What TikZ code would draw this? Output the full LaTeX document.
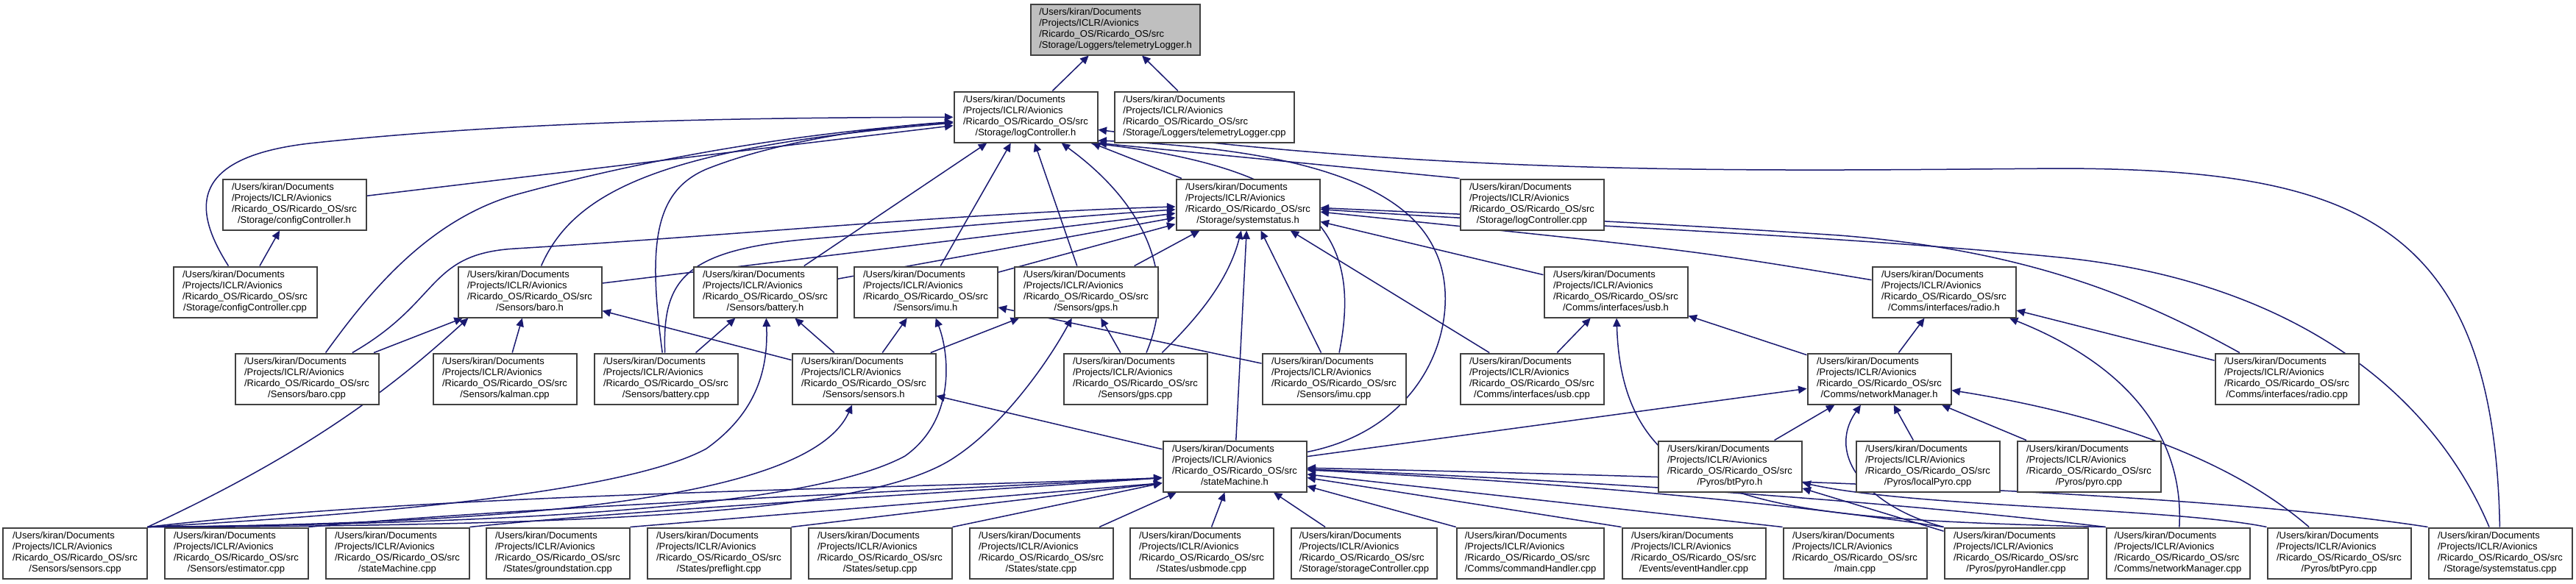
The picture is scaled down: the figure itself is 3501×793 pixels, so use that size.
\documentclass[tikz,border=0pt]{standalone}
\usepackage{fontspec}
\setmainfont{Liberation Sans}
\usetikzlibrary{arrows.meta,backgrounds}
\definecolor{edgec}{HTML}{191970}
\definecolor{boxc}{HTML}{404040}
\definecolor{rootc}{HTML}{BFBFBF}
\newcommand{\doxlbl}[1]{\begin{tabular}{@{}l@{}}/Users/kiran/Documents\\/Projects/ICLR/Avionics\\/Ricardo\_OS/Ricardo\_OS/src\\\multicolumn{1}{@{}c@{}}{#1}\end{tabular}}
\tikzset{
  box/.style={draw=boxc, line width=0.4mm, fill=white, minimum width=39mm, minimum height=13.8mm,
    inner xsep=2.2mm, inner ysep=0.5mm, font=\fontsize{7.4}{8.4}\selectfont},
  rootbox/.style={box, fill=rootc},
  edge/.style={draw=edgec, line width=0.3mm, -{Triangle[length=2.3mm,width=2.1mm]}}
}
\begin{document}
\begin{tikzpicture}[x=0.2mm, y=-0.2mm]
\useasboundingbox (0,0) rectangle (3501,793);
% row 0
\node[rootbox] (tl) at (1516,40) {\doxlbl{/Storage/Loggers/telemetryLogger.h}};
% row 1
\node[box] (lc) at (1394,159) {\doxlbl{/Storage/logController.h}};
\node[box] (tlc) at (1637,159) {\doxlbl{/Storage/Loggers/telemetryLogger.cpp}};
% row 2
\node[box] (cch) at (400,278) {\doxlbl{/Storage/configController.h}};
\node[box] (ss) at (1696,278) {\doxlbl{/Storage/systemstatus.h}};
\node[box] (lcc) at (2082,278) {\doxlbl{/Storage/logController.cpp}};
% row 3
\node[box] (ccc) at (333,397) {\doxlbl{/Storage/configController.cpp}};
\node[box] (bh) at (720,397) {\doxlbl{/Sensors/baro.h}};
\node[box] (bth) at (1040,397) {\doxlbl{/Sensors/battery.h}};
\node[box] (ih) at (1258,397) {\doxlbl{/Sensors/imu.h}};
\node[box] (gh) at (1476,397) {\doxlbl{/Sensors/gps.h}};
\node[box] (uh) at (2196,397) {\doxlbl{/Comms/interfaces/usb.h}};
\node[box] (rh) at (2642,397) {\doxlbl{/Comms/interfaces/radio.h}};
% row 4
\node[box] (bcpp) at (417,515) {\doxlbl{/Sensors/baro.cpp}};
\node[box] (kcpp) at (686,515) {\doxlbl{/Sensors/kalman.cpp}};
\node[box] (btc) at (905,515) {\doxlbl{/Sensors/battery.cpp}};
\node[box] (sh) at (1174,515) {\doxlbl{/Sensors/sensors.h}};
\node[box] (gpc) at (1543,515) {\doxlbl{/Sensors/gps.cpp}};
\node[box] (icp) at (1813,515) {\doxlbl{/Sensors/imu.cpp}};
\node[box] (ucpp) at (2082,515) {\doxlbl{/Comms/interfaces/usb.cpp}};
\node[box] (nm) at (2554,515) {\doxlbl{/Comms/networkManager.h}};
\node[box] (rcpp) at (3108,515) {\doxlbl{/Comms/interfaces/radio.cpp}};
% row 5
\node[box] (sm) at (1678,634) {\doxlbl{/stateMachine.h}};
\node[box] (bph) at (2351,634) {\doxlbl{/Pyros/btPyro.h}};
\node[box] (lpc) at (2620,634) {\doxlbl{/Pyros/localPyro.cpp}};
\node[box] (pyc) at (2839,634) {\doxlbl{/Pyros/pyro.cpp}};
% row 6
\node[box] (scpp) at (102,752) {\doxlbl{/Sensors/sensors.cpp}};
\node[box] (ecpp) at (321,752) {\doxlbl{/Sensors/estimator.cpp}};
\node[box] (smcpp) at (540,752) {\doxlbl{/stateMachine.cpp}};
\node[box] (gsc) at (758,752) {\doxlbl{/States/groundstation.cpp}};
\node[box] (pfc) at (977,752) {\doxlbl{/States/preflight.cpp}};
\node[box] (suc) at (1196,752) {\doxlbl{/States/setup.cpp}};
\node[box] (stc) at (1415,752) {\doxlbl{/States/state.cpp}};
\node[box] (umc) at (1633,752) {\doxlbl{/States/usbmode.cpp}};
\node[box] (scc) at (1854,752) {\doxlbl{/Storage/storageController.cpp}};
\node[box] (chc) at (2080,752) {\doxlbl{/Comms/commandHandler.cpp}};
\node[box] (ehc) at (2302,752) {\doxlbl{/Events/eventHandler.cpp}};
\node[box] (mnc) at (2521,752) {\doxlbl{/main.cpp}};
\node[box] (phc) at (2740,752) {\doxlbl{/Pyros/pyroHandler.cpp}};
\node[box] (nmc) at (2960,752) {\doxlbl{/Comms/networkManager.cpp}};
\node[box] (bpc) at (3179,752) {\doxlbl{/Pyros/btPyro.cpp}};
\node[box] (ssc) at (3398,752) {\doxlbl{/Storage/systemstatus.cpp}};

\begin{scope}[on background layer]
% telemetryLogger.h
\draw[edge] (lc) -- (tl);
\draw[edge] (tlc) -- (tl);
% logController.h
\draw[edge] (cch) -- (lc);
\draw[edge] (ccc) .. controls (265,290) and (250,215) .. (420,195) .. controls (700,165) and (1000,160) .. (lc);
\draw[edge] (bcpp) .. controls (500,400) and (580,300) .. (700,265) .. controls (900,210) and (1100,180) .. (lc);
\draw[edge] (bh) .. controls (780,260) and (900,200) .. (lc);
\draw[edge] (btc) .. controls (880,330) and (890,260) .. (960,230) .. controls (1060,190) and (1200,172) .. (lc);
\draw[edge] (bth) -- (lc);
\draw[edge] (ih) -- (lc);
\draw[edge] (gh) -- (lc);
\draw[edge] (gpc) .. controls (1600,380) and (1560,280) .. (lc);
\draw[edge] (lcc.north west) -- (lc.south east);
\draw[edge] (ss) -- (lc);
\draw[edge] (ssc) .. controls (3390,300) and (3200,230) .. (2800,229) .. controls (2400,232) and (2000,240) .. (lc.-10);
\draw[edge] (icp) .. controls (1850,330) and (1800,230) .. (lc.-22);
\draw[edge] (sm) .. controls (1950,580) and (1990,420) .. (1950,340) .. controls (1900,230) and (1700,200) .. (lc.-18);
% systemstatus.h
\draw[edge] (bcpp) .. controls (600,410) and (580,345) .. (700,338) .. controls (1000,320) and (1300,290) .. (ss);
\draw[edge] (bh) -- (ss);
\draw[edge] (btc) .. controls (900,380) and (930,340) .. (1100,325) .. controls (1300,308) and (1450,295) .. (ss);
\draw[edge] (bth) -- (ss);
\draw[edge] (ih) -- (ss);
\draw[edge] (gh) -- (ss);
\draw[edge] (gpc) .. controls (1630,430) and (1670,380) .. (ss);
\draw[edge] (sm) -- (ss);
\draw[edge] (icp) -- (ss);
\draw[edge] (ucpp) -- (ss);
\draw[edge] (uh) -- (ss);
\draw[edge] (rh) .. controls (2300,340) .. (ss);
\draw[edge] (rcpp) .. controls (2900,400) and (2750,340) .. (2500,320) .. controls (2200,300) and (2000,292) .. (ss);
\draw[edge] (ssc) .. controls (3300,520) and (3100,380) .. (2800,350) .. controls (2500,320) and (2100,305) .. (ss);
% configController.h
\draw[edge] (ccc) -- (cch);
% baro.h
\draw[edge] (bcpp) -- (bh);
\draw[edge] (kcpp) -- (bh);
\draw[edge] (scpp.north east) .. controls (430,610) and (540,520) .. (bh.-157);
\draw[edge] (sh) -- (bh);
% battery.h
\draw[edge] (btc) -- (bth);
\draw[edge] (sh) -- (bth);
\draw[edge] (scpp.north east) .. controls (500,700) and (850,670) .. (960,610) .. controls (1030,560) and (1044,500) .. (bth);
% imu.h
\draw[edge] (sh) -- (ih);
\draw[edge] (icp) -- (ih);
\draw[edge] (scpp.north east) .. controls (700,712) and (1100,690) .. (1230,620) .. controls (1300,570) and (1290,480) .. (ih);
% gps.h
\draw[edge] (gpc) -- (gh);
\draw[edge] (sh) -- (gh);
\draw[edge] (scpp.north east) .. controls (900,715) and (1200,690) .. (1300,620) .. controls (1360,580) and (1420,500) .. (gh);
% sensors.h
\draw[edge] (scpp.north east) .. controls (700,712) and (1100,680) .. (sh);
\draw[edge] (sm) -- (sh);
% stateMachine.h
\draw[edge] (scpp.north east) .. controls (600,670) and (1200,665) .. (sm.-171);
\draw[edge] (ecpp.north east) .. controls (700,690) and (1200,670) .. (sm.-171);
\draw[edge] (smcpp.north east) .. controls (900,690) and (1300,670) .. (sm.-171);
\draw[edge] (gsc.north east) -- (sm.-167);
\draw[edge] (pfc.north east) -- (sm.-167);
\draw[edge] (suc.north east) -- (sm.-167);
\draw[edge] (stc) -- (sm);
\draw[edge] (umc) -- (sm);
\draw[edge] (scc) -- (sm);
\draw[edge] (chc.north west) -- (sm);
\draw[edge] (ehc.north west) -- (sm);
\draw[edge] (mnc.north west) -- (sm);
\draw[edge] (phc.north west) .. controls (2400,680) and (2100,655) .. (sm);
\draw[edge] (nmc.north west) .. controls (2600,685) and (2200,655) .. (sm);
\draw[edge] (ssc.north west) .. controls (3000,670) and (2400,650) .. (sm);
% networkManager.h
\draw[edge] (sm) -- (nm);
\draw[edge] (bph) -- (nm);
\draw[edge] (lpc) -- (nm);
\draw[edge] (pyc) -- (nm);
\draw[edge] (phc.north west) .. controls (2540,690) and (2480,620) .. (nm);
\draw[edge] (bpc) .. controls (3050,640) and (2900,570) .. (nm);
% btPyro.h
\draw[edge] (phc) -- (bph);
\draw[edge] (bpc.north west) .. controls (2950,690) and (2600,690) .. (bph);
% usb.h
\draw[edge] (ucpp) -- (uh);
\draw[edge] (nm) -- (uh);
\draw[edge] (nmc.north west) .. controls (2400,705) and (2205,690) .. (uh);
% radio.h
\draw[edge] (nm) -- (rh);
\draw[edge] (rcpp) -- (rh);
\draw[edge] (nmc) .. controls (2968,600) and (2900,500) .. (rh);
\end{scope}
\end{tikzpicture}
\end{document}
